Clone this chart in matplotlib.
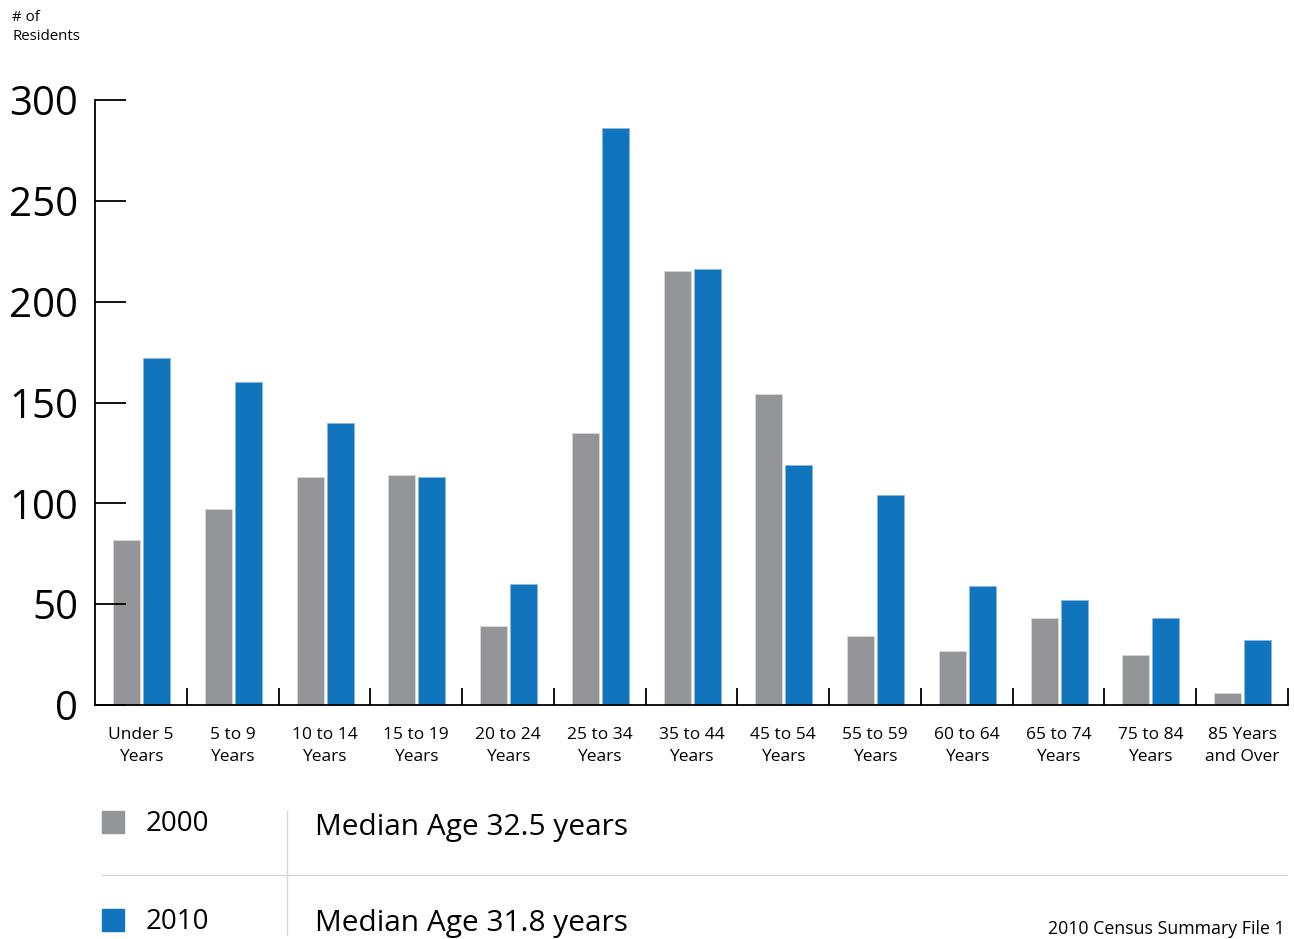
import numpy as np
import matplotlib
matplotlib.use("Agg")
import matplotlib.pyplot as plt
from matplotlib.lines import Line2D
from matplotlib.patches import Rectangle

plt.rcParams['font.family'] = ['Open Sans', 'DejaVu Sans']

categories = ["Under 5\nYears", "5 to 9\nYears", "10 to 14\nYears", "15 to 19\nYears",
              "20 to 24\nYears", "25 to 34\nYears", "35 to 44\nYears", "45 to 54\nYears",
              "55 to 59\nYears", "60 to 64\nYears", "65 to 74\nYears", "75 to 84\nYears",
              "85 Years\nand Over"]
vals_2000 = [82, 97, 113, 114, 39, 135, 215, 154, 34, 27, 43, 25, 6]
vals_2010 = [172, 160, 140, 113, 60, 286, 216, 119, 104, 59, 52, 43, 32]
yticks = [0, 50, 100, 150, 200, 250, 300]

GRAY = "#939598"
BLUE = "#1175be"

fig = plt.figure(figsize=(12.94, 9.39), dpi=100)
ax = fig.add_axes([95/1294, 1-705/939, (1288-95)/1294, 605/939])

x = np.arange(len(categories))
w = 0.294
ax.bar(x - 0.157, vals_2000, w, color=GRAY, edgecolor="#d8d8d8", linewidth=0.6)
ax.bar(x + 0.17, vals_2010, w, color=BLUE, edgecolor="#8fb8dc", linewidth=0.6)

ax.set_xlim(-0.5, len(categories) - 0.5)
ax.set_ylim(0, 300)
for s in ["top", "right"]:
    ax.spines[s].set_visible(False)
ax.spines["left"].set_linewidth(1.3)
ax.spines["bottom"].set_linewidth(1.3)

ax.set_yticks(yticks)
ax.set_yticklabels([str(v) for v in yticks], fontsize=29)
ax.tick_params(axis="y", direction="in", length=22, width=1.3, pad=12)

# separators between categories as inward ticks
ax.set_xticks(np.arange(len(categories)) + 0.5, minor=True)
ax.tick_params(axis="x", which="minor", direction="in", length=12, width=1.3)
ax.set_xticks(x)
ax.set_xticklabels(categories, fontsize=12.5, linespacing=1.45)
ax.tick_params(axis="x", which="major", length=0, pad=16)

fig.text(12/1294, 1-27/939, "# of\nResidents", fontsize=10.8, va="center", ha="left", linespacing=1.35)

# legend block
fig.patches.append(Rectangle((102/1294, 1-833/939), 22/1294, 22/939, transform=fig.transFigure,
                             color=GRAY))
fig.patches.append(Rectangle((102/1294, 1-931/939), 22/1294, 22/939, transform=fig.transFigure,
                             color=BLUE))
fig.text(146/1294, 1-824/939, "2000", fontsize=20, va="center", ha="left")
fig.text(146/1294, 1-922/939, "2010", fontsize=20, va="center", ha="left")
fig.text(315/1294, 1-828/939, "Median Age 32.5 years", fontsize=21.5, va="center", ha="left")
fig.text(315/1294, 1-923/939, "Median Age 31.8 years", fontsize=21.5, va="center", ha="left")
fig.lines.append(Line2D([287/1294, 287/1294], [1-811/939, 1-935/939], transform=fig.transFigure,
                        color="#d9d9d9", linewidth=1))
fig.lines.append(Line2D([102/1294, 1287/1294], [1-875/939, 1-875/939], transform=fig.transFigure,
                        color="#d9d9d9", linewidth=1))
fig.text(1285/1294, 1/939, "2010 Census Summary File 1", fontsize=12.8, va="bottom", ha="right")

fig.savefig("out.png", dpi=100)
